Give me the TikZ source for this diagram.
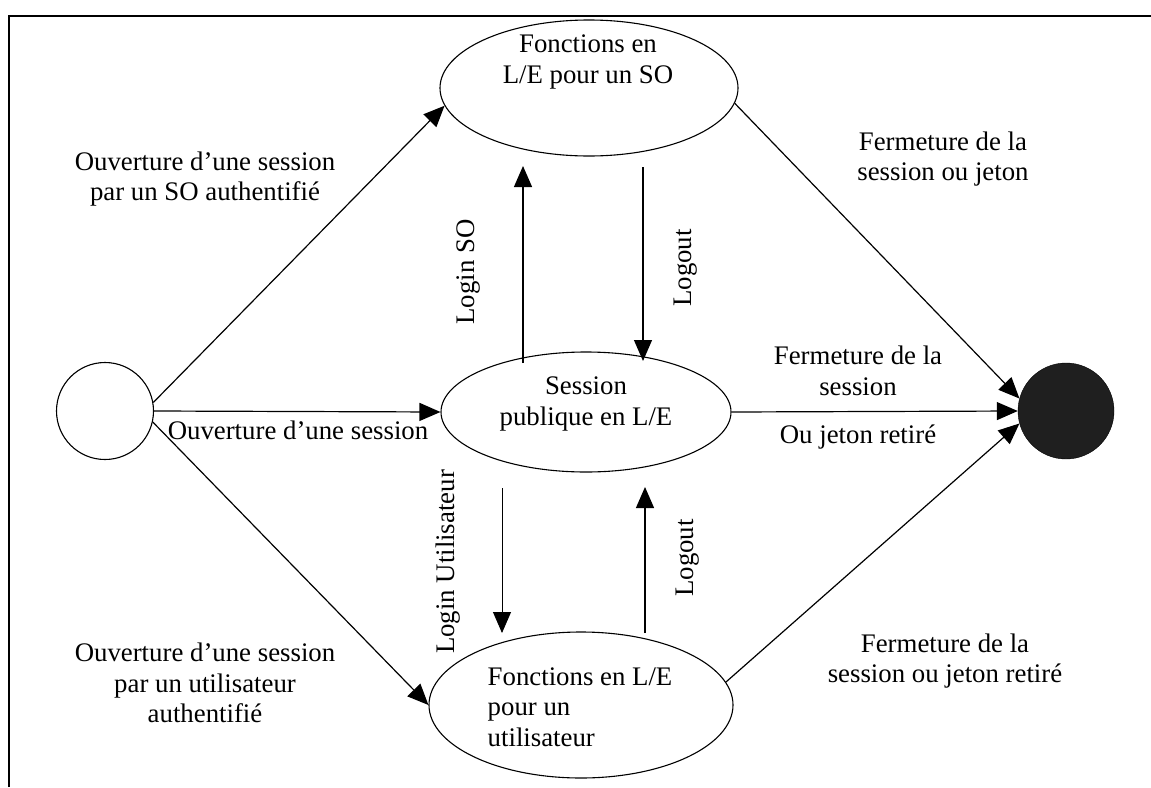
\documentclass[tikz,border=0pt]{standalone}
\usepackage{fontspec}
\setmainfont{Liberation Serif}
\usetikzlibrary{arrows.meta,shapes.geometric}
\begin{document}
\begin{tikzpicture}[x=1pt,y=-1pt,
  every node/.style={font=\fontsize{26.8}{30.5}\selectfont},
  state/.style={draw,ellipse,line width=1.1pt,inner sep=0pt},
  lbl/.style={align=center,inner sep=0pt},
  arr/.style={line width=1.2pt,-{Triangle[length=21pt,width=18pt]}},
  frame/.style={line width=2pt}]
\useasboundingbox (0,0) rectangle (1151,787);
\draw[frame] (9,787) -- (9,16) -- (1151,16);
% states
\node[draw,circle,line width=1.1pt,minimum size=97pt,inner sep=0pt] (init) at (105,411) {};
\node[circle,fill=black!88,draw=black,minimum size=96pt,inner sep=0pt] (fin) at (1066,411) {};
\node[state,minimum width=298pt,minimum height=136pt] (topE) at (589,88) {};
\node[state,minimum width=290pt,minimum height=120pt] (midE) at (586,412) {};
\node[state,minimum width=304pt,minimum height=146pt] (botE) at (581,705) {};
% texts in states
\node[lbl] (topT) at (588,62) {Fonctions en\\L/E pour un SO};
\node[lbl] (midT) at (586,404) {Session\\publique en L/E};
\node[lbl,align=left] (botT) at (580,707) {Fonctions en L/E\\pour un\\utilisateur};
% connectors
\draw[arr] (init.10) -- (topE.187);
\draw[arr] (init.east) -- (midE.west);
\draw[arr] (init.-13) -- (botE.west);
\draw[arr] (topE.-6) -- (fin.165);
\draw[arr] (midE.east) -- (fin.west);
\draw[arr] (botE.9) -- (fin.195);
\coordinate (lsoS) at (523,363);
\coordinate (lsoE) at (523,166);
\coordinate (loS) at (643,167);
\coordinate (loE) at (643,361);
\coordinate (luS) at (502,488);
\coordinate (luE) at (502,633);
\coordinate (lbS) at (645,633);
\coordinate (lbE) at (645,487);
\draw[arr] (lsoS) -- (lsoE);
\draw[arr] (loS) -- (loE);
\draw[arr,line width=0.9pt] (luS) -- (luE);
\draw[arr] (lbS) -- (lbE);
% labels
\node[lbl] (l1) at (205,179) {Ouverture d’une session\\par un SO authentifié};
\node[lbl] (l2) at (943,159) {Fermeture de la\\session ou jeton};
\node[lbl,rotate=90] (l3) at (469,272) {Login SO};
\node[lbl,rotate=90] (l4) at (686,268) {Logout};
\node[lbl] (l5) at (298,430) {Ouverture d’une session};
\node[lbl] (l6) at (858,371) {Fermeture de la\\session};
\node[lbl] (l7) at (858,437) {Ou jeton retiré};
\node[lbl,rotate=90] (l8) at (448,562) {Login Utilisateur};
\node[lbl,rotate=90] (l9) at (688,558) {Logout};
\node[lbl] (l10) at (205,683) {Ouverture d’une session\\par un utilisateur\\authentifié};
\node[lbl] (l11) at (945,661) {Fermeture de la\\session ou jeton retiré};
\end{tikzpicture}
\end{document}
